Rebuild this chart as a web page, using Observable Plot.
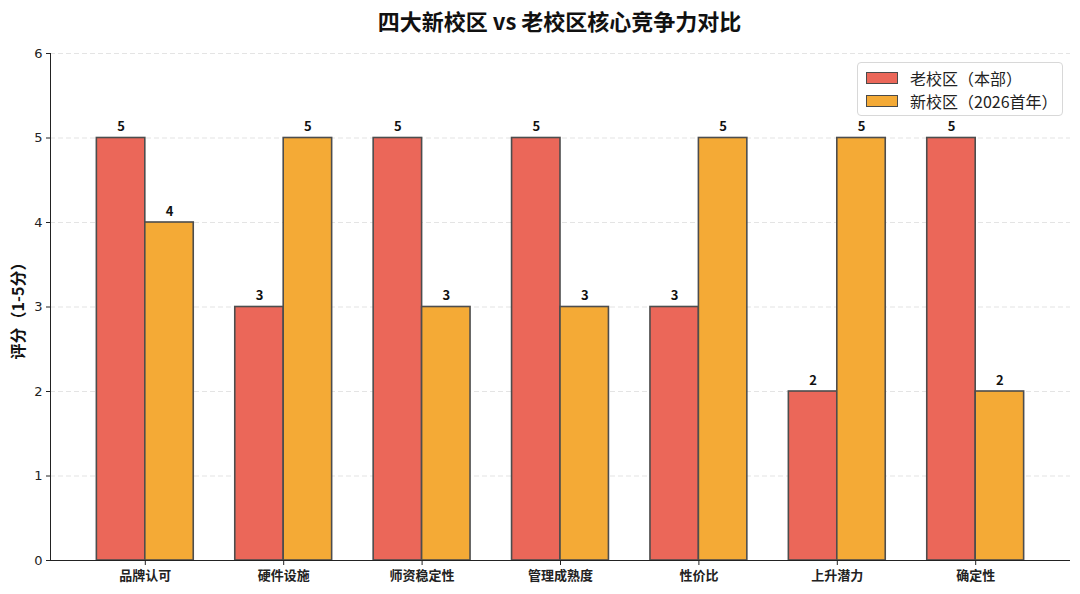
<!DOCTYPE html>
<html>
<head>
<meta charset="utf-8">
<script src="https://cdn.jsdelivr.net/npm/d3@7"></script>
<script src="https://cdn.jsdelivr.net/npm/@observablehq/plot@0.6"></script>
<style>
  body { margin: 0; background: #fff; font-family: "DejaVu Sans", "Noto Sans CJK SC", sans-serif; }
  #wrap { position: relative; width: 1080px; height: 594px; }
  #title { height: 40px; line-height: 40px; text-align: center; font-size: 22px; font-weight: bold; color: #111;
    font-family: "Noto Sans CJK SC", sans-serif; padding-left: 39px; box-sizing: border-box; }
  #legend { position: absolute; left: 857px; top: 62px; width: 206px; height: 54px; box-sizing: border-box;
    border: 1px solid #d8d8d8; border-radius: 4px; background: rgba(255,255,255,0.85); padding: 3px 0 0 8px;
    font-family: "Noto Sans CJK SC", sans-serif; font-size: 16px; color: #222; }
  .row { display: flex; align-items: center; height: 23px; }
  .sw { width: 30px; height: 10px; border: 1.5px solid #4a4a4a; margin-right: 12px; }
</style>
</head>
<body>
<div id="wrap">
  <div id="title">四大新校区 vs 老校区核心竞争力对比</div>
  <div id="chart"></div>
  <div id="legend"></div>
</div>
<script>
const categories = ["品牌认可", "硬件设施", "师资稳定性", "管理成熟度", "性价比", "上升潜力", "确定性"];
const seriesNames = ["老校区（本部）", "新校区（2026首年）"];
const oldCampus = [5, 3, 5, 5, 3, 2, 5];
const newCampus = [4, 5, 3, 3, 5, 5, 2];
const colors = ["#EB6759", "#F4AA36"];
const yTicks = [0, 1, 2, 3, 4, 5, 6];
const barWidth = 0.35;
const xDomain = [-0.685, categories.length - 1 + 0.685];

const data = [];
categories.forEach((c, i) => {
  data.push({cat: c, series: seriesNames[0], x1: i - barWidth, x2: i, value: oldCampus[i]});
  data.push({cat: c, series: seriesNames[1], x1: i, x2: i + barWidth, value: newCampus[i]});
});

const font = '"Noto Sans CJK SC", "DejaVu Sans", sans-serif';

const plot = Plot.plot({
  width: 1080,
  height: 554,
  marginTop: 13,
  marginBottom: 34,
  marginLeft: 50,
  marginRight: 10,
  style: {fontFamily: '"DejaVu Sans", "Noto Sans CJK SC", sans-serif', fontSize: "12px", color: "#222"},
  x: {type: "linear", domain: xDomain},
  y: {domain: [0, 6]},
  color: {domain: seriesNames, range: colors},
  marks: [
    Plot.gridY(yTicks, {stroke: "#bbb", strokeOpacity: 0.5, strokeDasharray: "5,3", strokeWidth: 0.8}),
    Plot.rectY(data, {x1: "x1", x2: "x2", y1: 0, y2: "value", fill: "series", stroke: "#4d4d4d", strokeWidth: 1.6}),
    Plot.text(data, {x: d => (d.x1 + d.x2) / 2, y: "value", text: d => String(d.value), dy: -11,
      fontWeight: "bold", fontSize: 13, fill: "#111", fontFamily: font}),
    Plot.axisY({ticks: yTicks, tickSize: 4, tickPadding: 4, fontSize: 13, label: null, tickFormat: d => String(d)}),
    Plot.axisX({ticks: d3.range(categories.length), tickFormat: i => categories[i], tickSize: 5, tickPadding: 5,
      fontSize: 13, fontWeight: "bold", label: null, fontFamily: font}),
    Plot.ruleY([0], {stroke: "#222", strokeWidth: 1}),
    Plot.ruleX([xDomain[0]], {stroke: "#222", strokeWidth: 1}),
    Plot.text(["评分（1-5分）"], {frameAnchor: "left", textAnchor: "middle", rotate: -90, dx: -32, fontWeight: "bold", fontSize: 16,
      fill: "#111", fontFamily: font, text: d => d})
  ]
});
document.getElementById("chart").appendChild(plot);

const colorScale = plot.scale("color");
const legend = document.getElementById("legend");
seriesNames.forEach((s, i) => {
  const row = document.createElement("div");
  row.className = "row";
  const sw = document.createElement("div");
  sw.className = "sw";
  sw.style.background = colorScale.range[i];
  const t = document.createElement("span");
  t.textContent = s;
  row.appendChild(sw);
  row.appendChild(t);
  legend.appendChild(row);
});
</script>
</body>
</html>
